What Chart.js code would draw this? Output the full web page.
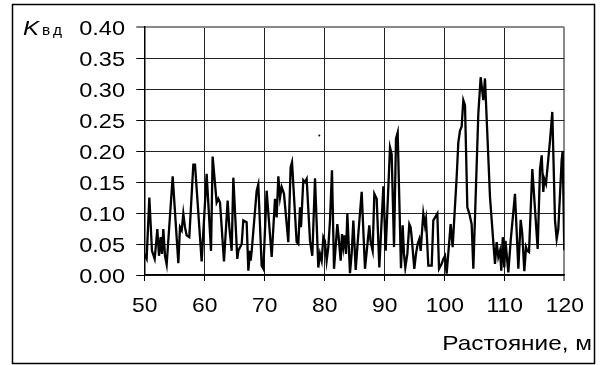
<!DOCTYPE html>
<html>
<head>
<meta charset="utf-8">
<script src="https://cdn.jsdelivr.net/npm/chart.js@4/dist/chart.umd.min.js"></script>
<style>
html,body{margin:0;padding:0;background:#fff;}
canvas{display:block;}
</style>
</head>
<body>
<canvas id="c" width="601" height="365"></canvas>
<script>
// Distance along the route, m
const distance = [
  50.0, 50.39, 50.84, 51.28, 51.73, 52.17, 52.45, 52.73, 52.95, 53.17, 53.45, 53.73, 54.73, 55.67, 55.95, 56.23, 56.5, 56.78, 57.06, 57.5, 58.17, 58.45, 59.56,
  60.39, 61.12, 61.39, 62.06, 62.34, 62.62, 63.28, 63.89, 64.17, 64.56, 64.84, 65.5, 65.67, 66.23, 66.5, 67.06, 67.34, 67.62, 67.73, 67.9, 68.73, 69.0, 69.56, 69.84,
  70.39, 71.23, 71.78, 72.06, 72.34, 72.62, 72.9, 73.28, 74.0, 74.39, 74.62, 75.39, 75.67, 75.95, 76.12, 76.5, 76.78, 77.06, 77.62, 78.0, 78.45, 79.0, 79.28, 79.56, 79.84,
  80.1, 80.39, 80.67, 80.95, 81.28, 81.62, 82.17, 82.39, 82.73, 82.95, 83.17, 83.39, 83.62, 83.84, 84.28, 84.56, 84.84, 85.23, 85.67, 86.23, 86.78, 87.5, 87.73, 88.06, 88.34, 88.73, 89.17, 89.84,
  90.23, 90.95, 91.23, 91.62, 91.95, 92.23, 92.78, 93.06, 93.28, 93.5, 93.84, 94.17, 94.39, 94.56, 95.0, 95.28, 95.56, 95.84, 96.06, 96.5, 96.78, 96.95, 97.34, 97.9, 98.17, 98.84, 99.12, 99.56, 99.84,
  100.12, 100.39, 101.06, 101.39, 102.06, 102.34, 102.62, 102.89, 103.17, 103.45, 103.84, 104.17, 104.56, 104.84, 105.67, 106.06, 106.5, 106.78, 107.62, 108.17, 108.45, 108.73, 109.0, 109.28, 109.5, 109.75,
  110.0, 110.2, 110.67, 111.06, 111.78, 112.34, 112.73, 113.0, 113.34, 113.62, 113.84, 114.12, 114.67, 115.56, 115.95, 116.23, 116.5, 116.67, 116.95, 117.62, 118.0, 118.45, 118.73, 119.0, 119.56, 119.73, 120.0
];
// K_vd values
const kvd = [
  0.034, 0.026, 0.125, 0.039, 0.026, 0.074, 0.031, 0.061, 0.034, 0.074, 0.031, 0.017, 0.159, 0.019, 0.077, 0.072, 0.099, 0.077, 0.064, 0.061, 0.178, 0.178, 0.022,
  0.163, 0.039, 0.191, 0.117, 0.123, 0.117, 0.022, 0.12, 0.077, 0.039, 0.157, 0.026, 0.039, 0.05, 0.088, 0.085, 0.007, 0.039, 0.023, 0.039, 0.136, 0.146, 0.015, 0.01,
  0.136, 0.029, 0.123, 0.093, 0.159, 0.125, 0.142, 0.131, 0.053, 0.174, 0.182, 0.053, 0.05, 0.109, 0.077, 0.153, 0.15, 0.155, 0.055, 0.031, 0.156, 0.012, 0.034, 0.023, 0.061,
  0.055, 0.023, 0.045, 0.088, 0.169, 0.01, 0.082, 0.061, 0.023, 0.066, 0.045, 0.064, 0.034, 0.099, 0.003, 0.034, 0.088, 0.008, 0.066, 0.134, 0.01, 0.08, 0.053, 0.039, 0.131, 0.123, 0.012, 0.143,
  0.039, 0.206, 0.195, 0.045, 0.22, 0.23, 0.011, 0.08, 0.034, 0.012, 0.034, 0.082, 0.077, 0.061, 0.01, 0.034, 0.05, 0.058, 0.039, 0.099, 0.08, 0.09, 0.015, 0.015, 0.088, 0.099, 0.01, 0.018, 0.026,
  0.031, 0.002, 0.082, 0.045, 0.158, 0.214, 0.233, 0.239, 0.282, 0.274, 0.109, 0.099, 0.082, 0.01, 0.26, 0.319, 0.282, 0.317, 0.125, 0.053, 0.018, 0.053, 0.029, 0.039, 0.007, 0.061,
  0.012, 0.055, 0.004, 0.055, 0.131, 0.01, 0.089, 0.066, 0.006, 0.045, 0.039, 0.037, 0.171, 0.042, 0.171, 0.193, 0.134, 0.155, 0.147, 0.217, 0.263, 0.088, 0.058, 0.074, 0.185, 0.2, 0.04
];
// stray dot in the plot
const strayDot = [{x: 79.17, y: 0.225}];
const xRange = [50, 120], xStep = 10;
const yRange = [0, 0.40], yStep = 0.05;
const xTitle = 'Растояние, м';
const yTitleMain = 'K', yTitleSub = ['в', 'д'];

const FONT = "'Liberation Sans', Arial, sans-serif";

function stretchedText(ctx, text, x, y, sx, align) {
  ctx.save();
  ctx.translate(x, y);
  ctx.scale(sx, 1);
  ctx.textAlign = align;
  ctx.fillText(text, 0, 0);
  ctx.restore();
}

const framePlugin = {
  id: 'frame',
  beforeDraw(chart) {
    const ctx = chart.ctx;
    ctx.save();
    ctx.fillStyle = '#fff';
    ctx.fillRect(0, 0, chart.width, chart.height);
    ctx.restore();
  },
  afterDraw(chart) {
    const ctx = chart.ctx;
    const xs = chart.scales.x, ys = chart.scales.y;
    ctx.save();
    ctx.strokeStyle = '#000';
    ctx.lineWidth = 1.5;
    ctx.strokeRect(12.5, 4.5, 582, 359);
    ctx.fillStyle = '#000';
    ctx.textBaseline = 'alphabetic';
    // tick labels (from the library's scales)
    ctx.font = '21px ' + FONT;
    ys.ticks.forEach(t => {
      const py = ys.getPixelForValue(t.value);
      stretchedText(ctx, t.value.toFixed(2), 125, py + 7.8, 1.12, 'right');
    });
    xs.ticks.forEach(t => {
      const px = xs.getPixelForValue(t.value);
      stretchedText(ctx, String(t.value), px + 0.5, 311.5, 1.09, 'center');
    });
    // y title
    ctx.font = 'italic 21px ' + FONT;
    stretchedText(ctx, yTitleMain, 23, 35, 1.15, 'left');
    ctx.font = '14px ' + FONT;
    stretchedText(ctx, yTitleSub[0], 42, 35, 1.1, 'left');
    stretchedText(ctx, yTitleSub[1], 53, 35, 1.1, 'left');
    // x title
    ctx.font = '21px ' + FONT;
    stretchedText(ctx, xTitle, 592, 350, 1.16, 'right');
    ctx.restore();
  }
};

const isClose = (a, b) => Math.abs(a - b) < 1e-9;

new Chart(document.getElementById('c'), {
  type: 'line',
  data: {
    datasets: [
      {
        data: distance.map((d, i) => ({x: d, y: kvd[i]})),
        borderColor: '#000',
        borderWidth: 2.3,
        pointRadius: 0,
        tension: 0,
        fill: false
      },
      {
        type: 'scatter',
        data: strayDot,
        pointRadius: 1,
        backgroundColor: '#000',
        borderWidth: 0
      }
    ]
  },
  options: {
    responsive: false,
    animation: false,
    devicePixelRatio: 1,
    layout: {padding: {left: 0, right: 36.7, top: 27, bottom: 0}},
    plugins: {legend: {display: false}, tooltip: {enabled: false}},
    scales: {
      x: {
        type: 'linear',
        min: xRange[0], max: xRange[1],
        afterFit(s) { s.height = 90; },
        ticks: {stepSize: xStep, autoSkip: false, maxRotation: 0, display: false},
        grid: {
          color: c => (c.tick && isClose(c.tick.value, 120)) ? '#888' : '#222',
          lineWidth: c => (c.tick && isClose(c.tick.value, 120)) ? 2 : 1,
          tickColor: '#000', tickLength: 6, tickWidth: 1
        },
        border: {color: '#000', width: 1.5}
      },
      y: {
        min: yRange[0], max: yRange[1],
        afterFit(s) { s.width = 144.3; },
        ticks: {stepSize: yStep, display: false},
        grid: {
          color: c => (c.tick && isClose(c.tick.value, 0.4)) ? '#888' : '#222',
          lineWidth: c => (c.tick && isClose(c.tick.value, 0.4)) ? 2 : 1,
          tickColor: '#000', tickLength: 8, tickWidth: 1
        },
        border: {color: '#000', width: 1.5}
      }
    }
  },
  plugins: [framePlugin]
});
</script>
</body>
</html>
